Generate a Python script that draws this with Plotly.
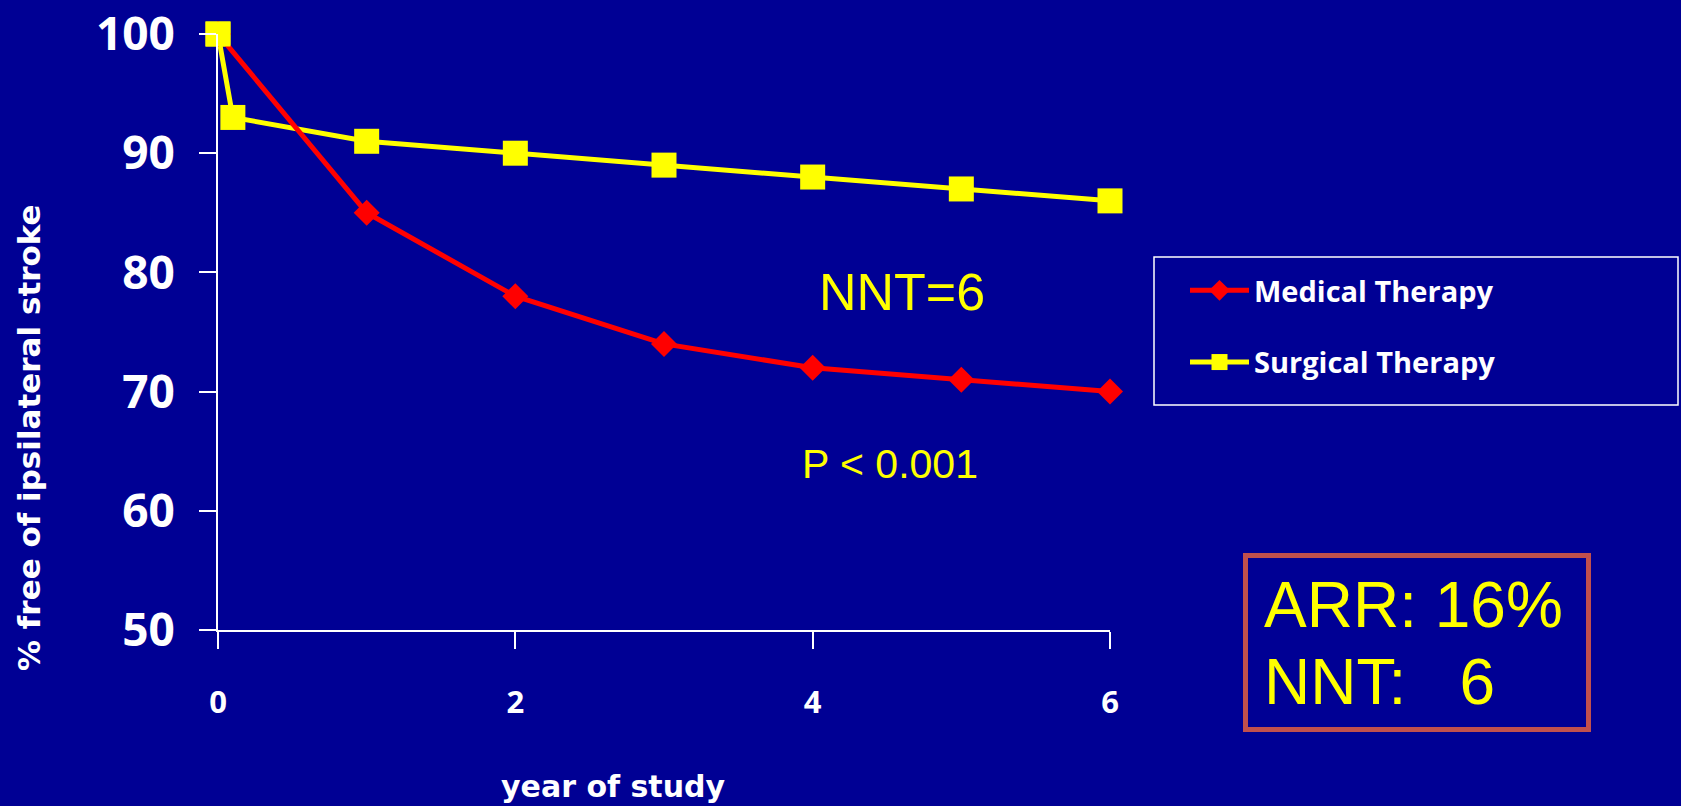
import plotly.graph_objects as go

# ---- data ----
years_medical = [0, 1, 2, 3, 4, 5, 6]
medical_free = [100, 85, 78, 74, 72, 71, 70]
years_surgical = [0, 0.1, 1, 2, 3, 4, 5, 6]
surgical_free = [100, 93, 91, 90, 89, 88, 87, 86]
x_ticks = [0, 2, 4, 6]
y_ticks = [50, 60, 70, 80, 90, 100]

BG = "#000094"
W, H = 1681, 806
L, R, T, B = 218, 571, 34, 176
PW, PH = W - L - R, H - T - B


def px(xp):
    return (xp - L) / PW


def py(yp):
    return (H - B - yp) / PH


fig = go.Figure()

fig.add_trace(go.Scatter(
    x=years_surgical, y=surgical_free, name="Surgical Therapy",
    mode="lines+markers", legendgroup="s", legendrank=2,
    line=dict(color="#FFFF00", width=5),
    marker=dict(symbol="square", size=25, color="#FFFF00"),
    cliponaxis=False,
))
fig.add_trace(go.Scatter(
    x=years_medical, y=medical_free, name="Medical Therapy",
    mode="lines+markers", legendgroup="m", legendrank=1,
    line=dict(color="#FF0000", width=5),
    marker=dict(symbol="diamond", size=20, color="#FF0000"),
    cliponaxis=False,
))
fig.add_trace(go.Scatter(
    x=years_surgical[:1], y=surgical_free[:1], showlegend=False,
    mode="markers", legendgroup="s",
    marker=dict(symbol="square", size=25, color="#FFFF00"),
    cliponaxis=False,
))

fig.update_layout(
    width=W, height=H,
    margin=dict(l=L, r=R, t=T, b=B, pad=0, autoexpand=False),
    paper_bgcolor=BG, plot_bgcolor=BG,
    showlegend=True,
    legend=dict(
        x=px(1185), y=py(265), xanchor="left", yanchor="top",
        bgcolor="rgba(0,0,0,0)", borderwidth=0,
        font=dict(family="Open Sans", size=29, color="white", weight="bold"),
        itemwidth=59, tracegroupgap=31,
    ),
    xaxis=dict(
        range=[0, 6], tickvals=x_ticks, showgrid=False, zeroline=False,
        showline=True, linecolor="white", linewidth=2, automargin=False,
        ticks="outside", ticklen=17, tickwidth=2, tickcolor="white",
        tickfont=dict(family="Open Sans", size=31, color="white", weight="bold"),
        ticklabelstandoff=27,
    ),
    yaxis=dict(
        range=[50, 100], tickvals=y_ticks, showgrid=False, zeroline=False,
        showline=True, linecolor="white", linewidth=2, automargin=False,
        ticks="outside", ticklen=17, tickwidth=2, tickcolor="white",
        tickfont=dict(family="Open Sans", size=46, color="white", weight="bold"),
        ticklabelstandoff=15,
    ),
    shapes=[
        dict(type="rect", xref="paper", yref="paper",
             x0=px(1154), x1=px(1678), y0=py(405), y1=py(257),
             line=dict(color="white", width=1.5)),
        dict(type="rect", xref="paper", yref="paper",
             x0=px(1245.5), x1=px(1588.5), y0=py(729.5), y1=py(555.5),
             line=dict(color="#C0504D", width=5)),
    ],
    annotations=[
        dict(text="year of study", xref="paper", yref="paper",
             x=px(613), y=py(786), xanchor="center", yanchor="middle",
             showarrow=False,
             font=dict(family="DejaVu Sans", size=30, color="white", weight="bold")),
        dict(text="% free of ipsilateral stroke", xref="paper", yref="paper",
             x=px(29), y=py(438), xanchor="center", yanchor="middle",
             textangle=-90, showarrow=False,
             font=dict(family="DejaVu Sans", size=31, color="white", weight="bold")),
        dict(text="NNT=6", xref="paper", yref="paper",
             x=px(902), y=py(292), xanchor="center", yanchor="middle",
             showarrow=False,
             font=dict(family="Liberation Sans, Arial", size=52, color="#FFFF00")),
        dict(text="P < 0.001", xref="paper", yref="paper",
             x=px(890), y=py(464), xanchor="center", yanchor="middle",
             showarrow=False,
             font=dict(family="Liberation Sans, Arial", size=41, color="#FFFF00")),
        dict(text="ARR: 16%", xref="paper", yref="paper",
             x=px(1262), y=py(605), xanchor="left", yanchor="middle",
             showarrow=False,
             font=dict(family="Liberation Sans, Arial", size=64, color="#FFFF00")),
        dict(text="NNT:\u00a0\u00a0\u00a06", xref="paper", yref="paper",
             x=px(1262), y=py(682), xanchor="left", yanchor="middle",
             showarrow=False,
             font=dict(family="Liberation Sans, Arial", size=64, color="#FFFF00")),
    ],
)

fig.write_html("out.html")
